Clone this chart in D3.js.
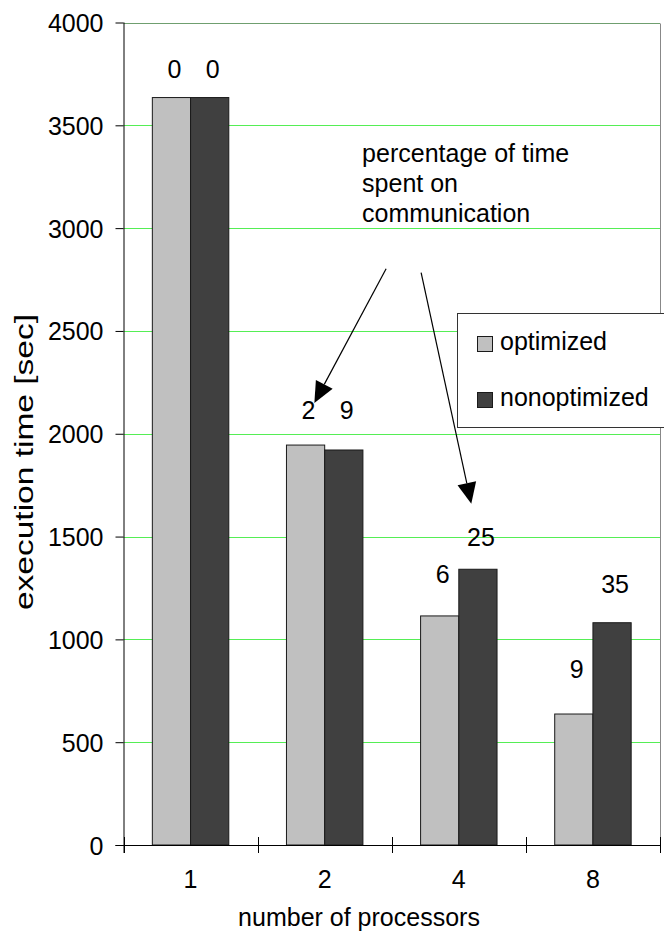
<!DOCTYPE html>
<html>
<head>
<meta charset="utf-8">
<script src="https://cdn.jsdelivr.net/npm/d3@7"></script>
<style>
  html, body { margin: 0; padding: 0; background: #ffffff; }
  svg { display: block; font-family: "Liberation Sans", Arial, Helvetica, sans-serif; }
</style>
</head>
<body>
<svg id="chart" width="664" height="936"></svg>
<script>
// Execution time per processor count, and share of time spent on communication (%)
const processors = ["1", "2", "4", "8"];
const seriesNames = ["optimized", "nonoptimized"];
const optimized = [3635, 1945, 1114, 637];
const nonoptimized = [3635, 1921, 1341, 1081];
const commOptimized = [0, 2, 6, 9];
const commNonoptimized = [0, 9, 25, 35];
const yTicks = [0, 500, 1000, 1500, 2000, 2500, 3000, 3500, 4000];

// Height (in seconds) at which each percentage label sits
const commLevelOptimized = [3730, 2072, 1276, 812];
const commLevelNonoptimized = [3730, 2072, 1456, 1226];

const W = 664, H = 936;
const plot = { left: 123.5, right: 660, top: 22.5, bottom: 845 };
const colors = { optimized: "#c0c0c0", nonoptimized: "#404040" };
const FONT = 25;

const svg = d3.select("#chart");

const x0 = d3.scaleBand()
  .domain(processors)
  .range([plot.left, plot.right])
  .paddingInner(0.43)
  .paddingOuter(0.215);

const x1 = d3.scaleBand()
  .domain(seriesNames)
  .range([0, x0.bandwidth()]);

const y = d3.scaleLinear()
  .domain([0, 4000])
  .range([plot.bottom, plot.top]);

// continuous horizontal coordinate (0..4 across the plot) for annotations
const xc = d3.scaleLinear().domain([0, processors.length]).range([plot.left, plot.right]);

// horizontal grid lines
svg.append("g")
  .selectAll("line")
  .data(yTicks.filter(t => t > 0))
  .join("line")
  .attr("x1", plot.left)
  .attr("x2", plot.right)
  .attr("y1", d => Math.round(y(d)) + 0.5)
  .attr("y2", d => Math.round(y(d)) + 0.5)
  .attr("stroke", d => d === 4000 ? "#6f9f6f" : "#55ee55")
  .attr("stroke-width", 1);

// right border of the plot area
svg.append("line")
  .attr("x1", plot.right + 0.5).attr("x2", plot.right + 0.5)
  .attr("y1", Math.round(y(4000)) + 0.5).attr("y2", plot.bottom)
  .attr("stroke", "#888888").attr("stroke-width", 1);

// bars
const rows = processors.map((p, i) => ({
  p,
  values: [
    { key: "optimized", value: optimized[i], comm: commOptimized[i], level: commLevelOptimized[i] },
    { key: "nonoptimized", value: nonoptimized[i], comm: commNonoptimized[i], level: commLevelNonoptimized[i] }
  ]
}));

const groups = svg.append("g")
  .selectAll("g")
  .data(rows)
  .join("g")
  .attr("transform", d => `translate(${x0(d.p)},0)`);

groups.selectAll("rect")
  .data(d => d.values)
  .join("rect")
  .attr("x", d => x1(d.key))
  .attr("y", d => y(d.value))
  .attr("width", x1.bandwidth())
  .attr("height", d => y(0) - y(d.value))
  .attr("fill", d => colors[d.key])
  .attr("stroke", "#1a1a1a")
  .attr("stroke-width", 1);

// percentage labels
groups.selectAll("text")
  .data(d => d.values)
  .join("text")
  .attr("x", d => x1(d.key) + x1.bandwidth() / 2 + 3)
  .attr("y", d => y(d.level))
  .attr("text-anchor", "middle")
  .attr("font-size", FONT)
  .attr("fill", "#000")
  .text(d => d.comm);

// y axis
const yAxis = svg.append("g")
  .attr("transform", `translate(${plot.left},0)`)
  .call(d3.axisLeft(y).tickValues(yTicks).tickFormat(d3.format("d"))
    .tickSize(8).tickPadding(12).tickSizeOuter(0));
yAxis.select(".domain").attr("stroke", "#000").attr("d", `M0.5,${y(4000)}V${plot.bottom + 8}`);
yAxis.selectAll(".tick line").attr("stroke", "#000");
yAxis.selectAll(".tick text")
  .attr("font-size", FONT)
  .attr("font-family", "Liberation Sans, Arial, sans-serif")
  .attr("fill", "#000")
  .attr("dy", "0.36em");

// x axis: category labels and separators between groups
const xAxis = svg.append("g")
  .attr("transform", `translate(0,${plot.bottom})`)
  .call(d3.axisBottom(x0).tickSize(0).tickPadding(25));
xAxis.select(".domain").attr("stroke", "#000")
  .attr("d", `M${plot.left - 8},0.5H${plot.right + 1}`);
xAxis.selectAll(".tick text")
  .attr("font-size", FONT)
  .attr("font-family", "Liberation Sans, Arial, sans-serif")
  .attr("fill", "#000");

const separators = processors.map(p => x0(p) - x0.step() * x0.paddingOuter()).concat([plot.right]);
svg.append("g")
  .selectAll("line")
  .data(separators)
  .join("line")
  .attr("x1", d => Math.round(d) + 0.5)
  .attr("x2", d => Math.round(d) + 0.5)
  .attr("y1", plot.bottom - 8)
  .attr("y2", plot.bottom + 8)
  .attr("stroke", "#000");

// axis titles
svg.append("text")
  .attr("x", 359)
  .attr("y", 926)
  .attr("text-anchor", "middle")
  .attr("font-size", FONT)
  .text("number of processors");

// vertical title, drawn elongated along its baseline
svg.append("text")
  .attr("transform", `translate(33,610) rotate(-90) scale(1.34,1)`)
  .attr("text-anchor", "start")
  .attr("font-size", FONT)
  .text("execution time [sec]");

// annotation text and arrows
const note = svg.append("text")
  .attr("x", xc(1.779))
  .attr("y", y(3323))
  .attr("font-size", FONT);
["percentage of time", "spent on", "communication"].forEach((line, i) => {
  note.append("tspan").attr("x", xc(1.779)).attr("dy", i === 0 ? 0 : 30).text(line);
});

const arrows = [
  { from: [1.958, 2802], to: [1.423, 2150] },
  { from: [2.219, 2784], to: [2.593, 1659] }
];

arrows.forEach(a => {
  const x1p = xc(a.from[0]), y1p = y(a.from[1]);
  const x2p = xc(a.to[0]), y2p = y(a.to[1]);
  const ang = Math.atan2(y2p - y1p, x2p - x1p);
  const len = 21, half = 9.5;
  const bx = x2p - len * Math.cos(ang), by = y2p - len * Math.sin(ang);
  svg.append("line")
    .attr("x1", x1p).attr("y1", y1p)
    .attr("x2", bx).attr("y2", by)
    .attr("stroke", "#000").attr("stroke-width", 1.2);
  const nx = -Math.sin(ang), ny = Math.cos(ang);
  svg.append("path")
    .attr("d", `M${x2p},${y2p}L${bx + nx * half},${by + ny * half}L${bx - nx * half},${by - ny * half}Z`)
    .attr("fill", "#000");
});

// legend
const legend = svg.append("g").attr("transform", "translate(457,313)");
legend.append("rect")
  .attr("x", 0.5).attr("y", 0.5)
  .attr("width", 230).attr("height", 114)
  .attr("fill", "#fff")
  .attr("stroke", "#333").attr("stroke-width", 1);
seriesNames.forEach((name, i) => {
  const row = legend.append("g").attr("transform", `translate(20,${23 + i * 56})`);
  row.append("rect")
    .attr("x", 0.5).attr("y", 0.5)
    .attr("width", 15).attr("height", 15)
    .attr("fill", colors[name])
    .attr("stroke", "#1a1a1a");
  row.append("text")
    .attr("x", 23).attr("y", 14)
    .attr("font-size", FONT)
    .text(name);
});
</script>
</body>
</html>
